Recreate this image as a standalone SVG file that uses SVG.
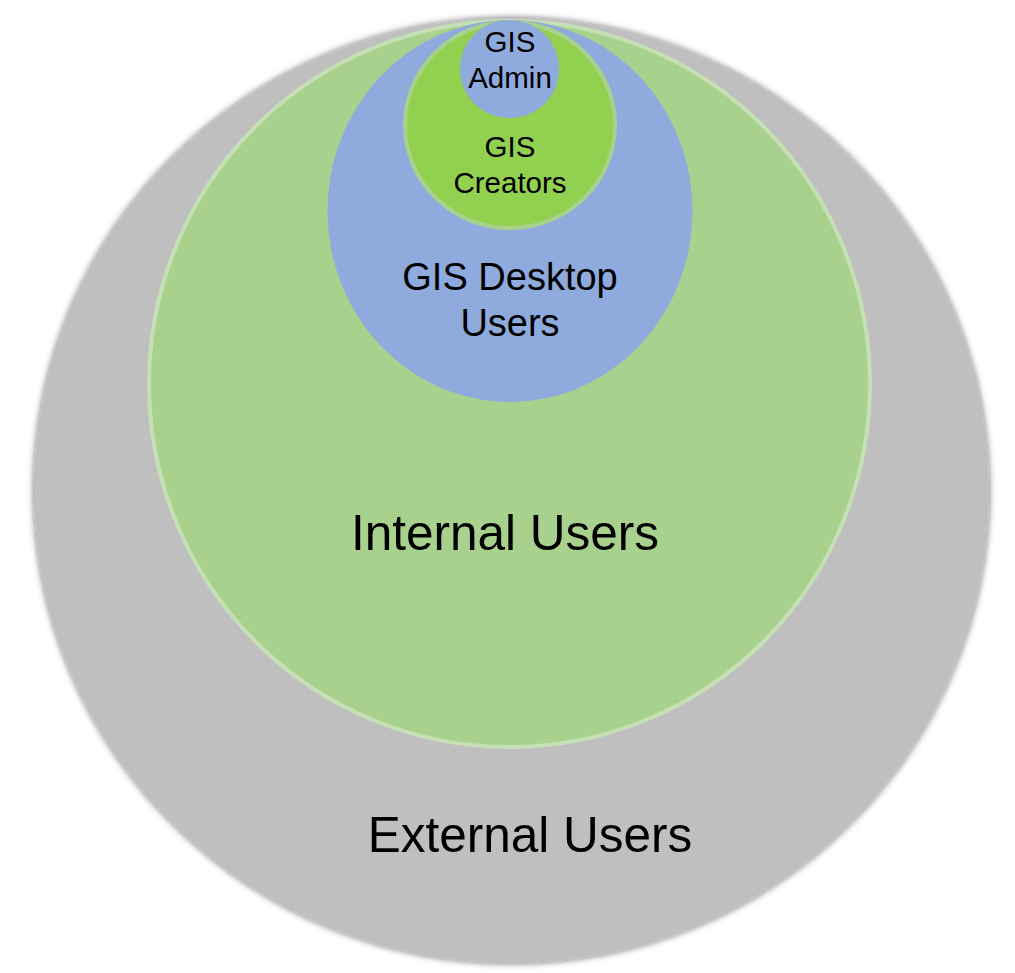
<svg xmlns="http://www.w3.org/2000/svg" width="1015" height="973" viewBox="0 0 1015 973">
  <defs>
    <filter id="shadow" x="-10%" y="-10%" width="120%" height="120%">
      <feDropShadow dx="0" dy="0" stdDeviation="3.5" flood-color="#000" flood-opacity="0.6"/>
    </filter>
    <style>
      .lbl { font-family: "Liberation Sans", Arial, sans-serif; fill: #000; text-anchor: middle; }
    </style>
  </defs>
  <rect width="1015" height="973" fill="#FFFFFF"/>
  <g id="external">
    <ellipse cx="511.5" cy="490.5" rx="477.5" ry="472.5" fill="#BFBFBF" filter="url(#shadow)"/>
    <text class="lbl" x="530" y="852" font-size="49.5">External Users</text>
  </g>
  <g id="internal">
    <ellipse cx="509.5" cy="384" rx="360.5" ry="363" fill="#A9D18E" stroke="#C5E0B4" stroke-width="4"/>
    <text class="lbl" x="505" y="550" font-size="49.5">Internal Users</text>
  </g>
  <g id="desktop">
    <ellipse cx="510" cy="211" rx="182.5" ry="191" fill="#8FAADC"/>
    <text class="lbl" x="510" y="290" font-size="38">GIS Desktop</text>
    <text class="lbl" x="510" y="336" font-size="38">Users</text>
  </g>
  <g id="creators">
    <ellipse cx="510" cy="125" rx="105" ry="103" fill="#92D050" stroke="#A9D18E" stroke-width="4"/>
    <text class="lbl" x="510" y="157" font-size="29.5">GIS</text>
    <text class="lbl" x="510" y="193" font-size="29.5">Creators</text>
  </g>
  <g id="admin">
    <ellipse cx="509.5" cy="69" rx="49.5" ry="49" fill="#8FAADC"/>
    <text class="lbl" x="510" y="52" font-size="29.5">GIS</text>
    <text class="lbl" x="510" y="88" font-size="29.5">Admin</text>
  </g>
  <g id="connectors"/>
</svg>
